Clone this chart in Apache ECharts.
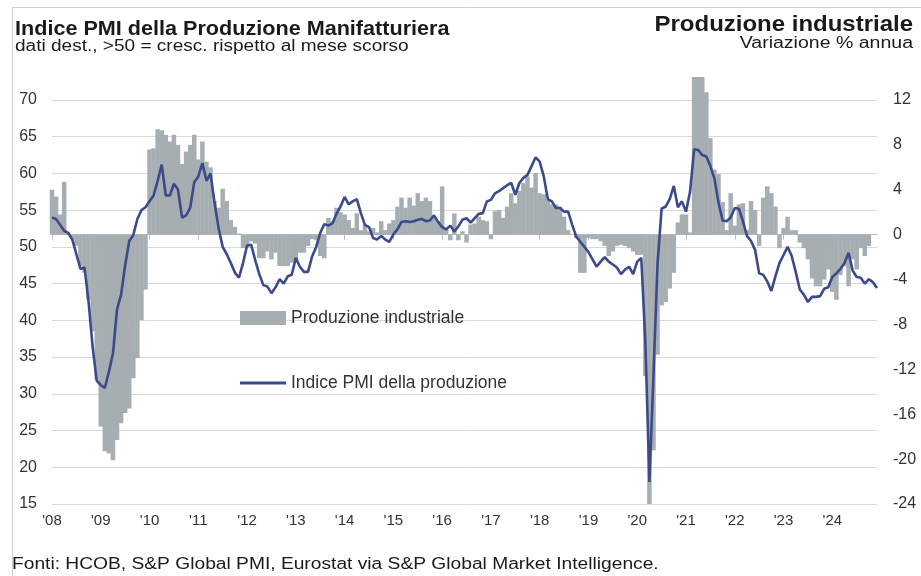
<!DOCTYPE html>
<html><head><meta charset="utf-8">
<script src="https://cdn.jsdelivr.net/npm/echarts@6.0.0/dist/echarts.min.js"></script>
<style>html,body{margin:0;padding:0;background:#fff}#c{width:921px;height:576px}</style>
</head><body><div id="c"></div>
<script>
const years = [2008,2009,2010,2011,2012,2013,2014,2015,2016,2017,2018,2019,2020,2021,2022,2023,2024];
const leftTicks = [15,20,25,30,35,40,45,50,55,60,65,70];
const rightTicks = [-24,-20,-16,-12,-8,-4,0,4,8,12];

// Indice PMI della produzione (monthly, Jan 2008 - Dec 2024)
const pmi = [
  54.0,53.8,53.0,52.2,51.9,51.0,49.0,47.0,47.2,42.5,36.4,31.8,
  31.2,30.8,33.0,35.5,41.5,43.5,47.5,50.8,51.6,53.8,55.0,55.4,
  56.2,57.0,59.0,61.2,57.0,57.0,58.6,57.8,54.0,54.3,55.3,58.8,
  59.6,61.4,59.0,60.0,56.0,52.5,50.0,49.0,47.8,46.5,45.8,47.8,
  50.2,50.3,48.2,46.3,44.8,44.6,43.7,44.5,45.6,45.0,46.0,46.2,
  48.5,47.3,46.6,46.6,48.7,50.0,51.9,53.1,52.9,53.2,54.5,55.5,
  56.8,55.8,56.2,56.5,54.6,53.0,52.7,51.2,51.0,51.5,51.0,50.7,
  51.7,52.4,53.4,53.5,53.4,53.5,53.7,53.8,53.5,53.6,54.3,53.4,
  52.7,52.4,52.9,52.1,52.8,53.7,53.9,53.3,53.9,54.5,54.6,56.2,
  56.4,57.3,57.6,58.0,58.4,58.7,57.1,58.7,59.4,59.8,61.0,62.2,
  61.6,59.6,56.5,56.2,55.3,55.3,54.8,54.8,53.0,51.4,50.7,50.0,
  49.3,48.3,47.3,48.0,48.6,48.0,47.6,47.2,46.3,46.9,47.3,46.3,
  48.0,48.5,37.1,18.0,32.6,47.7,55.2,55.5,56.5,58.3,55.4,56.2,
  54.8,57.5,63.3,63.2,62.5,62.3,61.0,59.3,56.0,53.6,53.5,54.0,
  55.3,55.2,53.5,51.5,50.8,49.6,46.4,46.2,45.3,44.0,46.0,47.8,
  48.9,50.0,48.8,46.6,44.2,43.5,42.5,43.2,43.2,43.3,44.3,44.5,
  45.9,46.4,47.0,47.8,49.2,46.8,45.9,45.8,45.0,45.6,45.2,44.4
];

// Produzione industriale, variazione % annua (monthly)
const prod = [
  4.0,3.4,1.8,4.7,0.2,-0.4,-1.0,-2.8,-3.4,-5.8,-8.6,-12.9,
  -17.1,-19.3,-19.5,-20.1,-18.3,-16.8,-15.9,-15.5,-12.8,-11.0,-7.6,-4.9,
  7.6,7.7,9.4,9.3,8.9,8.3,8.9,8.0,6.3,7.4,8.0,8.9,
  6.7,8.3,6.5,6.0,3.0,2.4,4.1,3.0,1.3,0.7,0.1,-1.2,
  -1.2,-0.6,-0.8,-2.1,-2.1,-1.5,-2.2,-1.6,-2.8,-2.8,-2.8,-2.5,
  -2.5,-1.6,-1.6,-1.0,-0.4,-0.5,-1.9,-2.1,1.5,1.2,2.4,2.0,
  1.8,1.3,0.6,1.9,0.4,0.9,0.3,0.6,0.2,1.2,0.4,1.0,
  1.3,2.5,3.3,2.4,3.3,2.6,3.7,3.0,3.3,3.0,1.6,1.2,
  4.3,0.5,-0.5,1.9,-0.5,0.3,-0.7,0.9,1.0,1.6,1.3,1.2,
  -0.4,2.1,2.2,1.5,2.5,3.7,2.8,3.9,4.6,5.2,4.2,5.5,
  3.7,3.6,3.1,2.7,2.7,2.5,1.6,0.4,0.0,-0.3,-3.4,-3.4,
  -0.3,-0.4,-0.4,-0.6,-1.0,-1.9,-1.5,-1.0,-0.9,-1.0,-1.2,-1.5,
  -1.8,-1.8,-12.6,-24.2,-19.2,-10.7,-6.3,-6.0,-4.8,-3.4,1.1,1.8,
  1.8,0.2,14.1,14.1,14.1,12.7,8.6,5.8,5.4,2.9,0.4,3.7,
  0.8,2.7,2.8,0.4,3.0,2.2,-1.0,3.3,4.3,3.7,2.5,-1.2,
  0.6,1.6,0.4,0.4,-0.7,-1.2,-2.2,-3.9,-4.6,-4.6,-4.0,-3.1,
  -5.1,-5.8,-3.6,-2.8,-4.6,-2.2,-3.1,-1.2,-1.9,-1.0,null,null
];

const categories = [];
years.forEach(y => { for (let m = 1; m <= 12; m++) categories.push(y + '-' + (m < 10 ? '0' : '') + m); });

const FONT = "'Liberation Sans', Arial, sans-serif";
const TXT = '#1a1a1a';
function label(text, x, y, size, weight, align, sx) {
  return {type: 'text', x: x, y: y, scaleX: sx, silent: true,
    style: {text: text, font: weight + ' ' + size + 'px ' + FONT, fill: TXT, align: align, verticalAlign: 'middle'}};
}
const chart = echarts.init(document.getElementById('c'), null, {renderer: 'canvas'});
chart.setOption({
  animation: false,
  backgroundColor: '#ffffff',
  textStyle: {fontFamily: FONT},
  graphic: [
    {type: 'line', silent: true, shape: {x1: 12.5, y1: 7.5, x2: 921, y2: 7.5}, style: {stroke: '#cfcfcf', lineWidth: 1}},
    {type: 'line', silent: true, shape: {x1: 12.5, y1: 7.5, x2: 12.5, y2: 576}, style: {stroke: '#cfcfcf', lineWidth: 1}},
    label('Indice PMI della Produzione Manifatturiera', 15, 29, 20, 'bold', 'left', 1.08),
    label('dati dest., >50 = cresc. rispetto al mese scorso', 15, 46.5, 16, 'normal', 'left', 1.19),
    label('Produzione industriale', 913, 25, 22, 'bold', 'right', 1.09),
    label('Variazione % annua', 913, 43.5, 16, 'normal', 'right', 1.22),
    label('Fonti: HCOB, S&P Global PMI, Eurostat via S&P Global Market Intelligence.', 12, 565, 16, 'normal', 'left', 1.2)
  ],
  legend: [
    {data: ['Produzione industriale'], left: 235, top: 304, itemWidth: 46, itemHeight: 14, itemGap: 6,
     icon: 'rect', textStyle: {fontSize: 17.5, color: '#333'}},
    {data: ['Indice PMI della produzione'], left: 235, top: 369, itemWidth: 46, itemHeight: 3,
     icon: 'rect', textStyle: {fontSize: 17.5, color: '#333'}}
  ],
  grid: {left: 52, right: 44, top: 77, bottom: 72, containLabel: false},
  xAxis: {
    type: 'category', data: categories, boundaryGap: false,
    axisLine: {show: true, lineStyle: {color: '#bdbdbd', width: 1}},
    axisTick: {show: true, interval: (i) => i % 12 === 0, length: 5, lineStyle: {color: '#bdbdbd'}},
    axisLabel: {interval: (i) => i % 12 === 0, formatter: (v) => "'" + v.slice(2, 4),
      color: '#333', fontSize: 15, margin: 9},
    splitLine: {show: false}
  },
  yAxis: [
    {type: 'value', min: leftTicks[0], max: 73.13, interval: 5, position: 'left',
     axisLine: {show: false}, axisTick: {show: false},
     axisLabel: {formatter: (v) => (leftTicks.indexOf(v) >= 0 ? String(v) : ''), showMaxLabel: false,
       color: '#333', fontSize: 16, margin: 15},
     splitLine: {show: true, showMaxLine: false, lineStyle: {color: '#d9d9d9', width: 1}}},
    {type: 'value', min: rightTicks[0], max: 14.05, interval: 4, position: 'right',
     axisLine: {show: false}, axisTick: {show: false},
     axisLabel: {formatter: (v) => (rightTicks.indexOf(v) >= 0 ? String(v) : ''), showMaxLabel: false,
       color: '#333', fontSize: 16, margin: 16},
     splitLine: {show: false}}
  ],
  series: [
    {name: 'Produzione industriale', type: 'bar', yAxisIndex: 1, data: prod,
     barWidth: 4.5, itemStyle: {color: '#a7aeb1'}, clip: true, silent: true},
    {name: 'Indice PMI della produzione', type: 'line', yAxisIndex: 0, data: pmi,
     symbol: 'none', lineStyle: {color: '#3b4a8b', width: 2.6}, itemStyle: {color: '#3b4a8b'}, z: 5, silent: true}
  ]
});
</script></body></html>
